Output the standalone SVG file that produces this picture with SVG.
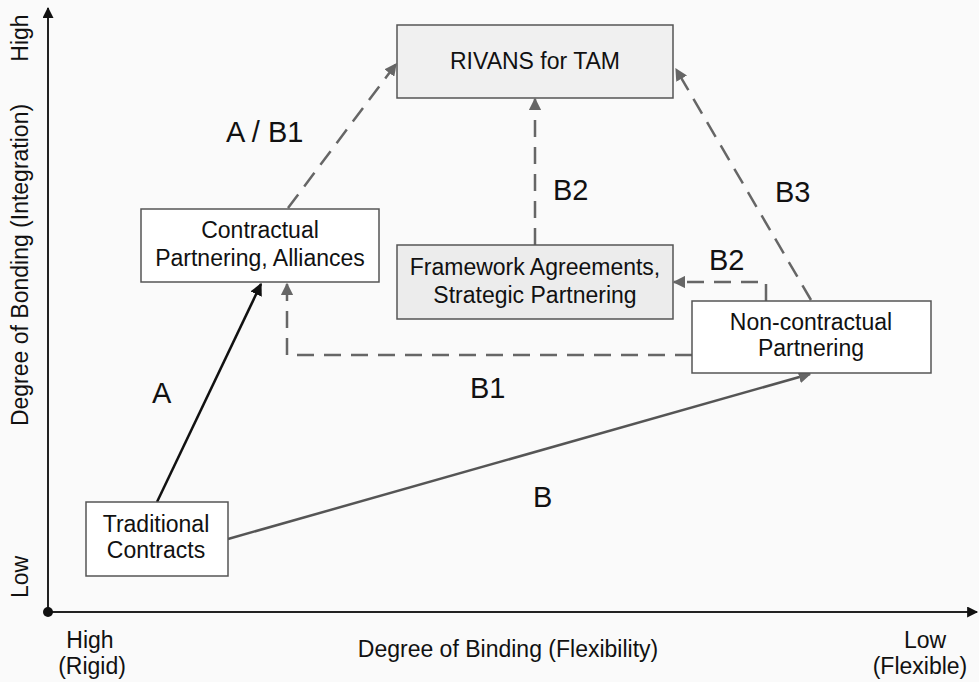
<svg xmlns="http://www.w3.org/2000/svg" width="979" height="682" viewBox="0 0 979 682">
  <style>
    text { font-family: "Liberation Sans", Arial, sans-serif; fill: #111; }
    .node { stroke: #555; stroke-width: 1.5; }
    .plain { fill: #ffffff; }
    .shaded { fill: #ececec; }
    .lbl { font-size: 23px; text-anchor: middle; }
    .edge { font-size: 29px; }
    .axis { stroke: #222; stroke-width: 2; fill: none; }
    .solid-dark { stroke: #111; stroke-width: 2.5; fill: none; }
    .solid-grey { stroke: #555; stroke-width: 2.5; fill: none; }
    .dashed { stroke: #666; stroke-width: 2.5; fill: none; stroke-dasharray: 17 10; }
  </style>
  <defs>
    <marker id="axisHead" viewBox="0 0 10 10" refX="9" refY="5" markerWidth="12" markerHeight="11" markerUnits="userSpaceOnUse" orient="auto">
      <path d="M0,0 L10,5 L0,10 z" fill="#111"/>
    </marker>
    <marker id="headDark" viewBox="0 0 10 10" refX="9" refY="5" markerWidth="5" markerHeight="5" orient="auto">
      <path d="M0,0 L10,5 L0,10 z" fill="#111"/>
    </marker>
    <marker id="headGrey" viewBox="0 0 10 10" refX="9" refY="5" markerWidth="5" markerHeight="5" orient="auto">
      <path d="M0,0 L10,5 L0,10 z" fill="#666"/>
    </marker>
  </defs>

  <rect x="0" y="0" width="979" height="682" fill="#fafafa"/>

  <!-- axes -->
  <g id="axes">
    <line class="axis" x1="48" y1="612" x2="48" y2="8" marker-end="url(#axisHead)"/>
    <line class="axis" x1="48" y1="612" x2="977" y2="612" marker-end="url(#axisHead)"/>
    <circle cx="48" cy="612" r="5" fill="#111"/>
    <text class="lbl" transform="translate(28,38) rotate(-90)">High</text>
    <text class="lbl" transform="translate(28,265) rotate(-90)">Degree of Bonding (Integration)</text>
    <text class="lbl" transform="translate(28,577) rotate(-90)">Low</text>
    <text class="lbl" x="90" y="648">High</text>
    <text class="lbl" x="92" y="674">(Rigid)</text>
    <text class="lbl" x="508" y="657">Degree of Binding (Flexibility)</text>
    <text class="lbl" x="925" y="648">Low</text>
    <text class="lbl" x="920" y="674">(Flexible)</text>
  </g>

  <!-- connectors -->
  <g id="connectors">
    <line class="solid-dark" x1="157" y1="502" x2="261" y2="284" marker-end="url(#headDark)"/>
    <line class="solid-grey" x1="228" y1="539" x2="810" y2="374" marker-end="url(#headGrey)"/>
    <line class="dashed" x1="288" y1="208" x2="396" y2="64" marker-end="url(#headGrey)"/>
    <line class="dashed" x1="535" y1="245" x2="535" y2="99" marker-end="url(#headGrey)"/>
    <polyline class="dashed" points="766,301 766,282 674,282" marker-end="url(#headGrey)"/>
    <line class="dashed" x1="811" y1="300" x2="676" y2="69" marker-end="url(#headGrey)"/>
    <polyline class="dashed" points="692,355 287,355 287,284" marker-end="url(#headGrey)"/>

    <text class="edge" x="226" y="142">A / B1</text>
    <text class="edge" x="152" y="403">A</text>
    <text class="edge" x="553" y="200">B2</text>
    <text class="edge" x="709" y="270">B2</text>
    <text class="edge" x="775" y="202">B3</text>
    <text class="edge" x="470" y="398">B1</text>
    <text class="edge" x="533" y="507">B</text>
  </g>

  <!-- nodes -->
  <g id="rivans">
    <rect class="node shaded" x="397" y="25" width="276" height="73" style="fill:#f0f0f0"/>
    <text class="lbl" x="535" y="69">RIVANS for TAM</text>
  </g>
  <g id="contractual">
    <rect class="node plain" x="141" y="209" width="238" height="73"/>
    <text class="lbl" x="260" y="238">Contractual</text>
    <text class="lbl" x="260" y="266">Partnering, Alliances</text>
  </g>
  <g id="framework">
    <rect class="node shaded" x="397" y="245" width="276" height="74"/>
    <text class="lbl" x="535" y="275">Framework Agreements,</text>
    <text class="lbl" x="535" y="303">Strategic Partnering</text>
  </g>
  <g id="noncontractual">
    <rect class="node plain" x="692" y="301" width="239" height="72"/>
    <text class="lbl" x="811" y="330">Non-contractual</text>
    <text class="lbl" x="811" y="356">Partnering</text>
  </g>
  <g id="traditional">
    <rect class="node plain" x="86" y="502" width="142" height="74"/>
    <text class="lbl" x="156" y="532">Traditional</text>
    <text class="lbl" x="156" y="558">Contracts</text>
  </g>
</svg>
